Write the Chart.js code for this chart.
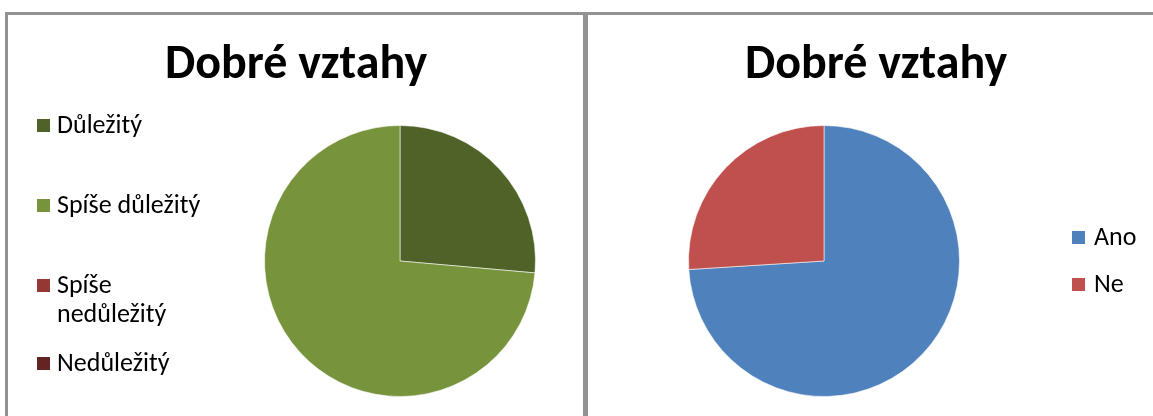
<!DOCTYPE html>
<html>
<head>
<meta charset="utf-8">
<script src="https://cdn.jsdelivr.net/npm/chart.js@4.4.0/dist/chart.umd.min.js"></script>
<style>
    html, body { margin: 0; background: #fff; overflow: hidden; }
    .page { position: relative; width: 1153px; height: 416px; overflow: hidden; }
    .panel { position: absolute; top: 12px; height: 430px; box-sizing: border-box; border: 3px solid #929292; }
    #panelLeft { left: 5px; width: 581px; }
    #panelRight { left: 585px; width: 568px; border-right: none; }
    canvas { position: absolute; top: 0; }
    #chartLeft { left: 0; }
    #chartRight { left: 586px; }
</style>
</head>
<body>
<div class="page">
    <div class="panel" id="panelLeft"></div>
    <div class="panel" id="panelRight"></div>
    <canvas id="chartLeft" width="586" height="416"></canvas>
    <canvas id="chartRight" width="567" height="416"></canvas>
</div>
<script>
// Data for both pies
const chartTitle = 'Dobré vztahy';
const importanceLabels = ['Důležitý', 'Spíše důležitý', 'Spíše nedůležitý', 'Nedůležitý'];
const importanceValues = [26.4, 73.6, 0, 0];
const answerLabels = ['Ano', 'Ne'];
const answerValues = [74, 26];

const importanceColors = ['#4F6228', '#77933C', '#953735', '#632523'];
const answerColors = ['#4F81BD', '#C0504D'];

const FONT = 'Carlito, Lato, "Open Sans", sans-serif';

// Draws the title and an Excel-like legend at fixed spots
const panelText = {
    id: 'panelText',
    afterDraw(chart, args, opts) {
        const ctx = chart.ctx;
        const ds = chart.data.datasets[0];
        ctx.save();
        ctx.fillStyle = '#000';
        ctx.font = 'bold 48px ' + FONT;
        ctx.textAlign = 'center';
        ctx.textBaseline = 'alphabetic';
        ctx.fillText(opts.title, opts.titleX, opts.titleY);

        ctx.font = '26px ' + FONT;
        ctx.textAlign = 'left';
        chart.data.labels.forEach((label, i) => {
            const y = opts.rows[i];
            ctx.fillStyle = ds.backgroundColor[i];
            ctx.fillRect(opts.boxX, y - 14, 13, 13);
            ctx.fillStyle = '#000';
            // wrap long labels onto a second line
            let lines = [label];
            if (ctx.measureText(label).width > opts.maxWidth) {
                const words = label.split(' ');
                lines = [words[0], words.slice(1).join(' ')];
            }
            lines.forEach((line, k) => {
                ctx.fillText(line, opts.textX, y + k * opts.lineHeight);
            });
        });
        ctx.restore();
    }
};

function makePie(id, labels, values, colors, padding, text) {
    return new Chart(document.getElementById(id), {
        type: 'pie',
        data: {
            labels: labels,
            datasets: [{
                data: values,
                backgroundColor: colors,
                borderColor: 'rgba(255,255,255,0.55)',
                borderWidth: 1
            }]
        },
        options: {
            responsive: false,
            animation: false,
            layout: { padding: padding },
            plugins: {
                legend: { display: false },
                title: { display: false },
                tooltip: { enabled: false },
                panelText: text
            }
        },
        plugins: [panelText]
    });
}

makePie('chartLeft', importanceLabels, importanceValues, importanceColors,
    { left: 264, right: 50, top: 125, bottom: 19 },
    { title: chartTitle, titleX: 296, titleY: 78, boxX: 37, textX: 57,
      rows: [133, 213, 293, 371], lineHeight: 29, maxWidth: 158 });

makePie('chartRight', answerLabels, answerValues, answerColors,
    { left: 102, right: 193, top: 125, bottom: 19 },
    { title: chartTitle, titleX: 290, titleY: 78, boxX: 486, textX: 508,
      rows: [245, 292], lineHeight: 29, maxWidth: 158 });
</script>
</body>
</html>
